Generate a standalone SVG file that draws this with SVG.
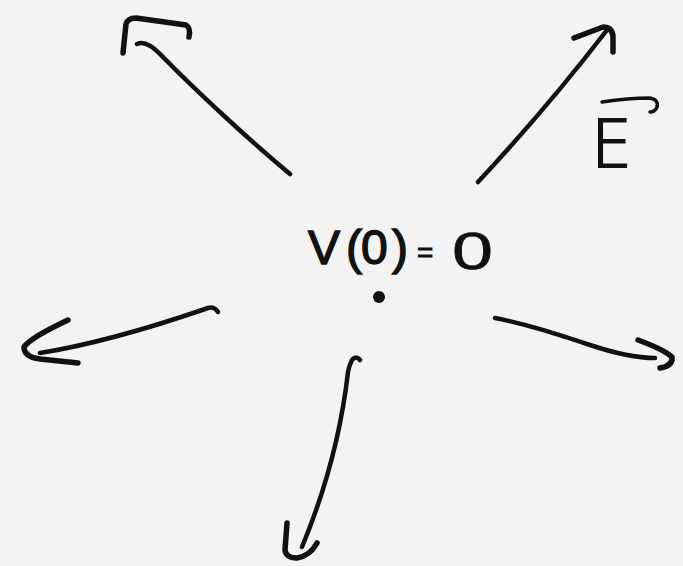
<svg xmlns="http://www.w3.org/2000/svg" width="683" height="566" viewBox="0 0 683 566">
<style>
.ln{fill:none;stroke:#111;stroke-width:4.5;stroke-linecap:round;stroke-linejoin:round}
.hd{fill:none;stroke:#111;stroke-width:5.5;stroke-linecap:round;stroke-linejoin:round}
.t{font-family:"Liberation Sans",Arial,sans-serif;fill:#111;stroke:#111}
</style>
<rect width="683" height="566" fill="#f3f3f3"/>
<g id="field-arrows">
  <g id="arrow-up-left">
    <path class="ln" d="M290,174 C255,145 200,95 160,54 Q146,40 137,44"/>
    <path class="hd" d="M123,53 L126,24 Q128,18 136,18 L186,25 Q191,28 189,37"/>
  </g>
  <g id="arrow-up-right">
    <path class="ln" d="M478,182 Q547,108 607,30"/>
    <path class="hd" d="M574,38 L603,27 Q612,27 613,36 L613,52"/>
  </g>
  <g id="arrow-left">
    <path class="ln" d="M218,312 Q214,306 208,308 C150,328 90,345 40,353"/>
    <path class="hd" d="M68,320 Q30,338 24,347 Q24,357 40,359 L78,363"/>
  </g>
  <g id="arrow-right">
    <path class="ln" d="M495,318 C530,325 560,335 590,345 S640,358 655,358"/>
    <path class="hd" d="M638,340 Q665,350 672,357 Q673,366 660,368"/>
  </g>
  <g id="arrow-down">
    <path class="ln" d="M360,360 Q356,355 352,360 Q349,366 348,372 Q338,460 302,547"/>
    <path class="hd" d="M287,523 L285,550 Q286,558 297,558 Q310,556 317,543"/>
  </g>
</g>
<g id="e-label">
  <text class="t" x="591" y="167" font-size="65" stroke-width="1.8" style="font-family:'DejaVu Sans','Liberation Sans',sans-serif" font-weight="200">E</text>
  <path class="ln" style="stroke-width:3.5" d="M602,102 Q628,98 650,98 Q659,100 657,107 Q655,112 650,112"/>
</g>
<g id="potential-label">
  <text class="t" y="264" font-size="48" stroke-width="1.4"><tspan x="308">V</tspan><tspan x="346">(</tspan><tspan x="361">0</tspan><tspan x="392">)</tspan></text>
  <text class="t" x="417" y="262" font-size="28" stroke-width="0.8">=</text>
  <text class="t" x="452" y="269" font-size="51" stroke-width="0.6" textLength="41" lengthAdjust="spacingAndGlyphs">0</text>
</g>
<g id="origin">
  <circle cx="379" cy="297" r="6" fill="#111"/>
</g>
</svg>
